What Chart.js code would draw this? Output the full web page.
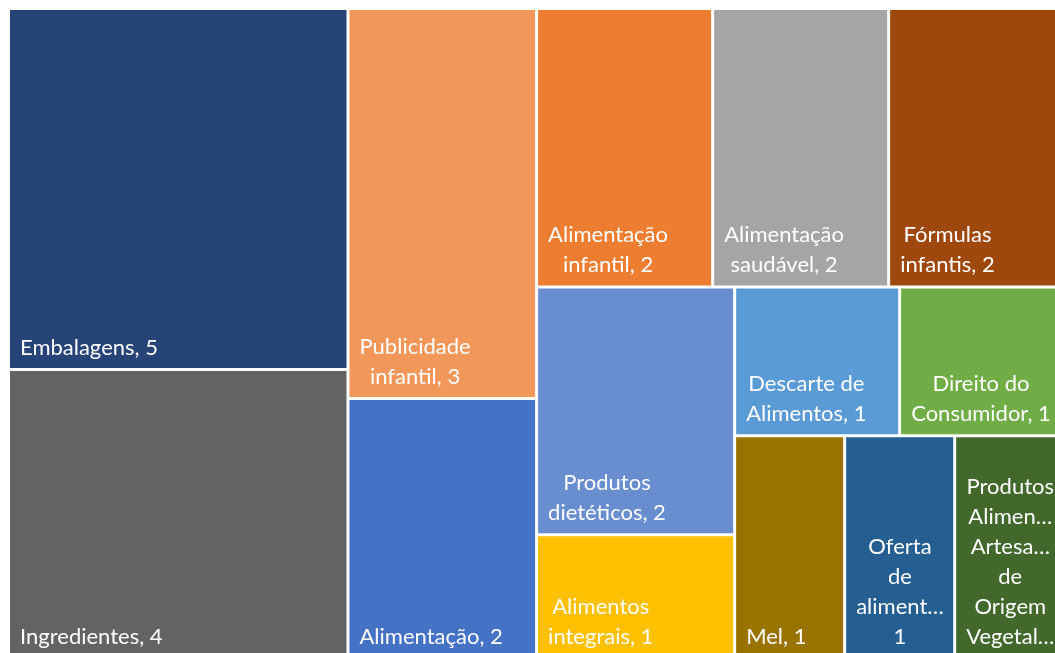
<!DOCTYPE html>
<html><head><meta charset="utf-8">
<script src="https://cdn.jsdelivr.net/npm/chart.js@4/dist/chart.umd.min.js"></script>
<style>html,body{margin:0;padding:0;background:#fff;overflow:hidden}</style>
</head><body>
<canvas id="c" width="1065" height="659"></canvas>
<script>
// ---- data ----
const categories = ['Embalagens','Ingredientes','Publicidade infantil','Alimentação','Alimentação infantil','Alimentação saudável','Fórmulas infantis','Produtos dietéticos','Alimentos integrais','Descarte de Alimentos','Direito do Consumidor','Mel','Oferta de alimentos','Produtos Alimentícios Artesanais de Origem Vegetal'];
const values = [5,4,3,2,2,2,2,2,1,1,1,1,1,1];
// ---- styles ----
const colors = ['#264478','#636363','#F1975A','#4472C4','#ED7D31','#A5A5A5','#9E480E','#698ED0','#FFC000','#5B9BD5','#70AD47','#997300','#255E91','#43682B'];
// number of items laid in each successive strip of the treemap
const stripCounts = [2,2,3,2,2,3];

function squarify(vals, counts, W, H) {
  const rects = [];
  let x = 0, y = 0, w = W, h = H, i = 0;
  let remaining = vals.reduce((a, b) => a + b, 0);
  for (const n of counts) {
    const items = vals.slice(i, i + n);
    const sum = items.reduce((a, b) => a + b, 0);
    const last = i + n >= vals.length;
    let stacked = w >= h;
    if (last) {
      const worst = (st) => Math.max(...items.map(v => {
        const a = st ? w : w * v / sum, b = st ? h * v / sum : h;
        return Math.max(a / b, b / a);
      }));
      stacked = worst(true) <= worst(false);
    }
    if (stacked) {
      const sw = last ? w : w * sum / remaining;
      let yy = y;
      items.forEach(v => { const ih = h * v / sum; rects.push({x, y: yy, w: sw, h: ih}); yy += ih; });
      x += sw; w -= sw;
    } else {
      const sh = last ? h : h * sum / remaining;
      let xx = x;
      items.forEach(v => { const iw = w * v / sum; rects.push({x: xx, y, w: iw, h: sh}); xx += iw; });
      y += sh; h -= sh;
    }
    remaining -= sum; i += n;
  }
  return rects;
}

function forceEllipsis(ctx, s, maxW) {
  let t = s;
  while (t.length > 1 && ctx.measureText(t + '…').width > maxW) t = t.slice(0, -1);
  return t + '…';
}
function fit(ctx, s, maxW) {
  return ctx.measureText(s).width <= maxW ? s : forceEllipsis(ctx, s, maxW);
}
function wrap(ctx, text, maxW, maxLines) {
  const words = text.split(' ');
  const lines = []; let cur = '';
  for (const w of words) {
    const t = cur ? cur + ' ' + w : w;
    if (!cur || ctx.measureText(t).width <= maxW) cur = t;
    else { lines.push(cur); cur = w; }
  }
  lines.push(cur);
  let out = lines.map(l => fit(ctx, l, maxW));
  if (out.length > maxLines) {
    out = out.slice(0, maxLines);
    out[maxLines - 1] = forceEllipsis(ctx, lines[maxLines - 1].replace(/[,.;:]+$/, ''), maxW);
  }
  return out;
}

class TreemapController extends Chart.DatasetController {
  update(mode) {
    const meta = this._cachedMeta;
    this.updateElements(meta.data, 0, meta.data.length, mode);
  }
  updateElements(els, start, count, mode) {
    const meta = this._cachedMeta, xs = meta.xScale, ys = meta.yScale;
    const ds = this.getDataset();
    const W = xs.width, H = ys.height;
    const rects = squarify(ds.data, stripCounts, W, H);
    for (let i = start; i < start + count; i++) {
      const r = rects[i];
      const left = xs.getPixelForValue(r.x / W), right = xs.getPixelForValue((r.x + r.w) / W);
      const top = ys.getPixelForValue(r.y / H), bottom = ys.getPixelForValue((r.y + r.h) / H);
      Object.assign(els[i], {
        x: (left + right) / 2, y: top, base: bottom, width: right - left, height: bottom - top,
        horizontal: false, borderSkipped: {}, inflateAmount: 0, enableBorderRadius: false,
        options: this.resolveDataElementOptions(i, mode)
      });
    }
  }
  draw() {
    const ctx = this._ctx, meta = this._cachedMeta, chart = this.chart;
    const data = this.getDataset().data, labels = chart.data.labels;
    meta.data.forEach(el => el.draw(ctx, chart.chartArea));
    ctx.save();
    ctx.font = '22px Lato';
    ctx.fillStyle = '#ffffff';
    ctx.textAlign = 'center';
    ctx.textBaseline = 'alphabetic';
    meta.data.forEach((el, i) => {
      const left = el.x - el.width / 2, right = el.x + el.width / 2;
      const top = Math.min(el.y, el.base), bottom = Math.max(el.y, el.base);
      const cw = right - left, ch = bottom - top;
      const maxW = cw - 20;
      const maxLines = Math.max(1, Math.floor((ch - 24) / 30));
      const lines = wrap(ctx, labels[i] + ', ' + data[i], maxW, maxLines);
      const bw = Math.max(...lines.map(l => ctx.measureText(l).width));
      const cx = left + 11.5 + bw / 2;
      lines.forEach((l, k) => ctx.fillText(l, cx, bottom - 15 - (lines.length - 1 - k) * 30));
    });
    ctx.restore();
  }
}
TreemapController.id = 'treemap';
TreemapController.defaults = { datasetElementType: false, dataElementType: 'bar' };
TreemapController.overrides = { scales: { x: { type: 'linear' }, y: { type: 'linear' } } };
Chart.register(TreemapController);

new Chart(document.getElementById('c'), {
  type: 'treemap',
  data: {
    labels: categories,
    datasets: [{
      data: values,
      backgroundColor: colors,
      borderColor: '#ffffff',
      borderWidth: 1.5
    }]
  },
  options: {
    responsive: false,
    animation: false,
    events: [],
    layout: { padding: { left: 8.5, top: 8.5, right: 0.3, bottom: 0.5 } },
    scales: {
      x: { type: 'linear', min: 0, max: 1, display: false },
      y: { type: 'linear', min: 0, max: 1, reverse: true, display: false }
    },
    plugins: { legend: { display: false }, tooltip: { enabled: false } }
  }
});
</script>
</body></html>
